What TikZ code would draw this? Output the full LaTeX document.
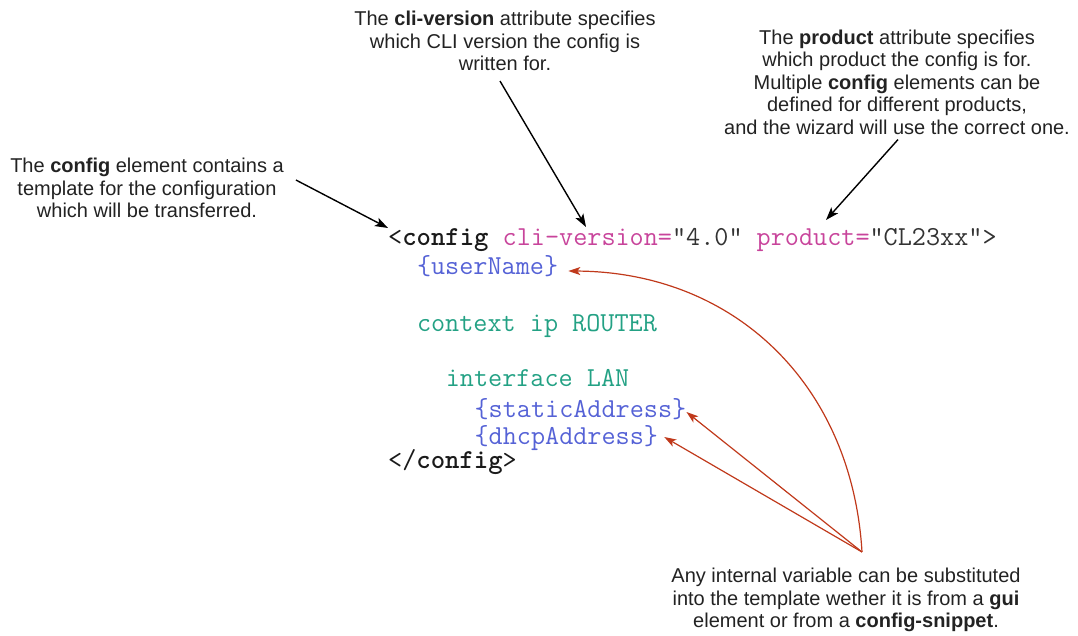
\documentclass[tikz,border=0pt]{standalone}
\usepackage{fontspec}
\setmainfont{Liberation Sans}
\usetikzlibrary{arrows.meta}
\definecolor{notecol}{HTML}{222222}
\definecolor{tagcol}{HTML}{1A1A1A}
\definecolor{attrcol}{HTML}{C8449B}
\definecolor{valcol}{HTML}{333333}
\definecolor{varcol}{HTML}{5562D6}
\definecolor{kwcol}{HTML}{23A184}
\definecolor{subcol}{HTML}{C0391B}
\begin{document}
\begin{tikzpicture}[x=1pt,y=-1pt,
  note/.style={align=center,font=\fontsize{20}{22.5}\selectfont,inner sep=0pt,text=notecol},
  code/.style={anchor=base west,inner sep=0pt,font=\fontsize{27.4}{30}\selectfont\ttfamily},
  blkarrow/.style={draw=black,line width=1.4pt,-{Stealth[length=13pt,width=9pt,inset=3pt]}},
  subarrow/.style={draw=subcol,line width=1.2pt,-{Stealth[length=12pt,width=8pt,inset=3pt]}}]
\useasboundingbox (0,0) rectangle (1078,635);

% notes
\node[note] (lnote) at (147,188) {The \textbf{config} element contains a\\template for the configuration\\which will be transferred.};
\node[note] (mnote) at (505,41) {The \textbf{cli-version} attribute specifies\\which CLI version the config is\\written for.};
\node[note] (rnote) at (897,82) {The \textbf{product} attribute specifies\\which product the config is for.\\Multiple \textbf{config} elements can be\\defined for different products,\\and the wizard will use the correct one.};
\node[note] (bnote) at (846,600) {Any internal variable can be substituted\\into the template wether it is from a \textbf{gui}\\element or from a \textbf{config-snippet}.};

% code
\node[code,text=tagcol] (cfg) at (388,245) {<\textbf{config} \textcolor{attrcol}{cli-version=}\textcolor{valcol}{"4.0"} \textcolor{attrcol}{product=}\textcolor{valcol}{"CL23xx">}};
\node[code,text=varcol] (un) at (416.8,274) {\{userName\}};
\node[code,text=kwcol] (ctx) at (416.8,331) {context ip ROUTER};
\node[code,text=kwcol] (ifc) at (445.6,386) {interface LAN};
\node[code,text=varcol] (sa) at (474.4,417) {\{staticAddress\}};
\node[code,text=varcol] (da) at (474.4,444) {\{dhcpAddress\}};
\node[code,text=tagcol] (ecfg) at (388,468) {</\textbf{config}>};

% black arrows
\draw[blkarrow] ([shift={(12pt,8pt)}]lnote.east) -- ([shift={(0pt,17pt)}]cfg.base west);
\draw[blkarrow] ([shift={(-5pt,-10pt)}]mnote.south) -- ([shift={(198pt,18pt)}]cfg.base west);
\draw[blkarrow] ([shift={(1pt,-5pt)}]rnote.south) -- ([shift={(438pt,25pt)}]cfg.base west);

% red arrows
\coordinate (src) at (862,552);
\draw[subarrow] (src) .. controls (852,385) and (735,272) .. ([shift={(10pt,3pt)}]un.base east);
\draw[subarrow] (src) -- ([shift={(0pt,5pt)}]sa.base east);
\draw[subarrow] (src) -- ([shift={(6pt,7pt)}]da.base east);
\end{tikzpicture}
\end{document}
